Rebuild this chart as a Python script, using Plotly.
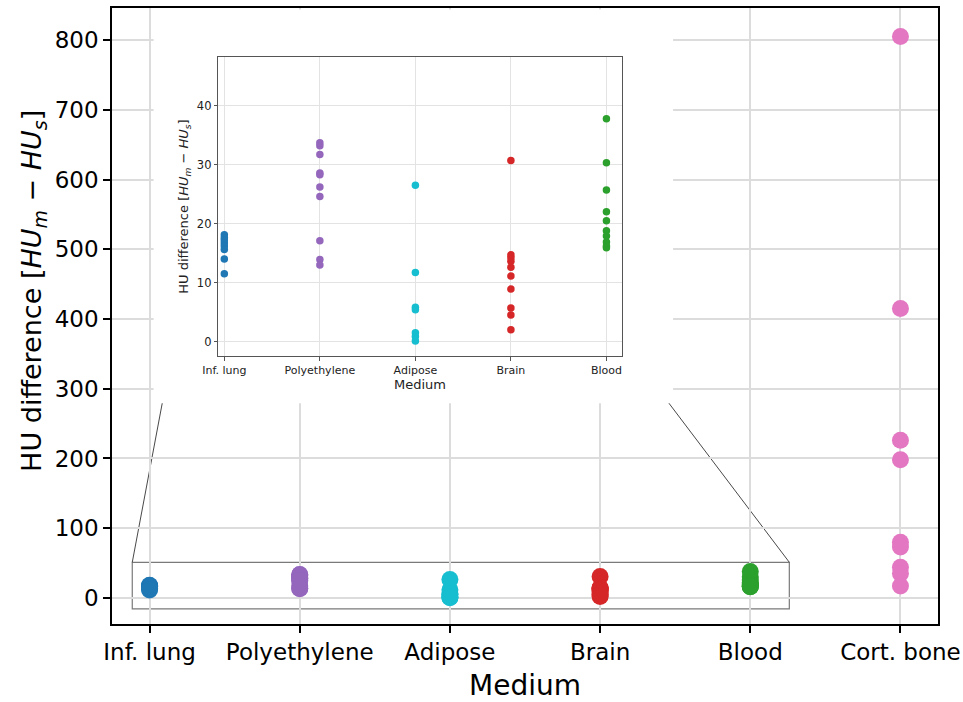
import plotly.graph_objects as go

categories = ["Inf. lung", "Polyethylene", "Adipose", "Brain", "Blood", "Cort. bone"]
colors = ["#1f77b4", "#9467bd", "#17becf", "#d62728", "#2ca02c", "#e377c2"]

inf_lung = [18.1, 17.6, 17.2, 16.7, 16.2, 15.6, 14.0, 11.5]
polyethylene = [33.7, 33.2, 31.7, 28.6, 28.3, 26.2, 24.6, 17.1, 13.9, 13.0]
adipose = [26.5, 11.7, 5.8, 5.4, 1.5, 0.85, 0.1]
brain = [30.7, 14.7, 14.2, 13.6, 12.6, 11.1, 8.9, 5.7, 4.5, 2.0]
blood = [37.8, 30.3, 25.7, 22.0, 20.5, 18.8, 17.9, 16.9, 16.2, 15.9]
cort_bone = [805, 415, 226, 198, 80, 73, 44, 35, 17]

series = [inf_lung, polyethylene, adipose, brain, blood, cort_bone]

main_yticks = [0, 100, 200, 300, 400, 500, 600, 700, 800]
inset_yticks = [0, 10, 20, 30, 40]

FONT = "DejaVu Sans"
ytitle = "HU difference [<i>HU</i><sub><i>m</i></sub> \u2212 <i>HU</i><sub><i>s</i></sub>]"

fig = go.Figure()

# white panel behind the inset (hides main gridlines/connectors)
fig.add_trace(go.Scatter(
    x=[0.027, 3.486, 3.486, 0.027, 0.027], y=[279, 279, 844, 844, 279],
    mode="lines", fill="toself", fillcolor="white", line=dict(width=0),
    hoverinfo="skip", showlegend=False, xaxis="x", yaxis="y"))

for i, vals in enumerate(series):
    fig.add_trace(go.Scatter(
        x=[i] * len(vals), y=vals, mode="markers",
        marker=dict(size=17, color=colors[i], line=dict(width=0)),
        showlegend=False, xaxis="x", yaxis="y"))

for i, vals in enumerate(series[:5]):
    fig.add_trace(go.Scatter(
        x=[i] * len(vals), y=vals, mode="markers",
        marker=dict(size=7.5, color=colors[i], line=dict(width=0)),
        showlegend=False, xaxis="x2", yaxis="y2"))

# zoom rectangle and connector lines
fig.add_shape(type="rect", xref="x", yref="y", x0=-0.115, x1=4.26, y0=-15.8, y1=51.1,
              line=dict(color="#7a7a7a", width=1.2), layer="below")
fig.add_shape(type="line", xref="x", yref="y", x0=-0.115, y0=51.1, x1=0.52, y1=777,
              line=dict(color="#333333", width=0.9), layer="below")
fig.add_shape(type="line", xref="x", yref="y", x0=4.26, y0=51.1, x1=3.28, y1=330,
              line=dict(color="#333333", width=0.9), layer="below")

axis_common = dict(showline=True, mirror=True, ticks="outside", zeroline=False,
                   automargin=False)

fig.update_layout(
    width=963, height=702,
    margin=dict(l=112, r=25, t=8, b=78),
    paper_bgcolor="white", plot_bgcolor="white",
    font=dict(family=FONT, color="black"),
    xaxis=dict(
        **axis_common, domain=[0, 1], range=[-0.25, 5.25],
        tickvals=list(range(6)), ticktext=categories,
        linecolor="black", linewidth=1.5, tickcolor="black", ticklen=7, tickwidth=1.5,
        showgrid=True, gridcolor="#dcdcdc", gridwidth=1.5,
        tickfont=dict(size=23, family=FONT),
        title=dict(text="Medium", font=dict(size=28, family=FONT), standoff=12),
    ),
    yaxis=dict(
        **axis_common, domain=[0, 1], range=[-37.4, 846],
        tickvals=main_yticks,
        linecolor="black", linewidth=1.5, tickcolor="black", ticklen=7, tickwidth=1.5,
        showgrid=True, gridcolor="#dcdcdc", gridwidth=1.5,
        tickfont=dict(size=23, family=FONT),
    ),
    xaxis2=dict(
        **axis_common, domain=[0.1287, 0.6171], range=[-0.063, 4.16], anchor="y2",
        tickvals=list(range(5)), ticktext=categories[:5],
        linecolor="#555555", linewidth=1, tickcolor="#555555", ticklen=3.5, tickwidth=1,
        showgrid=True, gridcolor="#e3e3e3", gridwidth=1,
        tickfont=dict(size=11, family=FONT, color="#222222"),
        title=dict(text="Medium", font=dict(size=13, family=FONT, color="#222222"), standoff=2),
    ),
    yaxis2=dict(
        **axis_common, domain=[0.4346, 0.9209], range=[-2.5, 48.3], anchor="x2",
        tickvals=inset_yticks,
        linecolor="#555555", linewidth=1, tickcolor="#555555", ticklen=3.5, tickwidth=1,
        showgrid=True, gridcolor="#e3e3e3", gridwidth=1,
        tickfont=dict(size=11.5, family=FONT, color="#222222"),
        title=dict(text=ytitle, font=dict(size=13, family=FONT, color="#222222"), standoff=5),
    ),
    annotations=[dict(
        text=ytitle, textangle=-90, xref="paper", yref="paper",
        x=-0.095, y=0.54, xanchor="center", yanchor="middle", showarrow=False,
        font=dict(size=27, family=FONT, color="black"),
    )],
)

fig.write_html("out.html")
